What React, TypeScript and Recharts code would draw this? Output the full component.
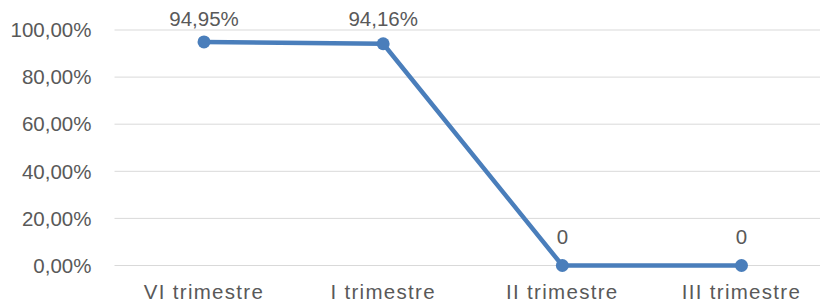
import { CartesianGrid, LabelList, Line, LineChart, XAxis, YAxis } from "recharts"

const categories = ["VI trimestre", "I trimestre", "II trimestre", "III trimestre"]
const values = [94.95, 94.16, 0, 0]
const yTicks = [0, 20, 40, 60, 80, 100]

const LINE = "#4A7EBB"
const TEXT = "#595959"
const GRID = "#D9D9D9"
const FONT = "'Liberation Sans', Arial, sans-serif"

const data = categories.map((c, i) => ({ cat: c, v: values[i] }))

const pct = (n: number) => n.toFixed(2).replace(".", ",") + "%"
const labelText = (n: number) => (n === 0 ? "0" : pct(n))

function PointLabel(props: any) {
  const { x, y, value } = props
  // etichette alte restano dentro l'area del grafico
  const by = Math.max(y - 22, 26)
  return (
    <text x={x} y={by} textAnchor="middle" fill={TEXT} fontSize={20.5} fontFamily={FONT}>
      {labelText(value)}
    </text>
  )
}

export default function App() {
  return (
    <div style={{ position: "absolute", left: 0, top: 0, width: 820, height: 308, overflow: "hidden", background: "#fff" }}>
      <LineChart width={840} height={308} data={data} margin={{ top: 30, right: 9, bottom: 0, left: 0 }}>
        <CartesianGrid vertical={false} stroke={GRID} strokeWidth={1} />
        <XAxis
          dataKey="cat"
          axisLine={false}
          tickLine={false}
          tickSize={0}
          tickMargin={19}
          height={42.5}
          interval={0}
          padding={{ left: 89.5, right: 89.5 }}
          tick={{ fill: TEXT, fontSize: 20.5, fontFamily: FONT, letterSpacing: 1.3 }}
        />
        <YAxis
          domain={[0, 100]}
          ticks={yTicks}
          axisLine={false}
          tickLine={false}
          tickSize={0}
          tickMargin={23}
          width={114.5}
          tickFormatter={pct}
          tick={{ fill: TEXT, fontSize: 20.5, fontFamily: FONT }}
        />
        <Line
          type="linear"
          dataKey="v"
          stroke={LINE}
          strokeWidth={4.5}
          dot={{ r: 6.5, fill: LINE, stroke: LINE, strokeWidth: 0 }}
          activeDot={false}
          isAnimationActive={false}
        >
          <LabelList dataKey="v" content={PointLabel} />
        </Line>
      </LineChart>
    </div>
  )
}
